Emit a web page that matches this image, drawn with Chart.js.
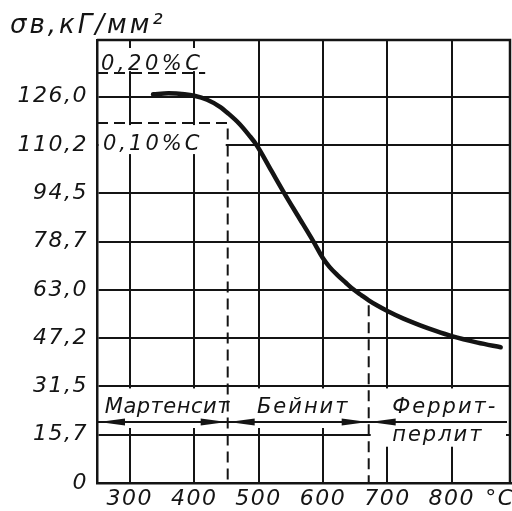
<!DOCTYPE html>
<html>
<head>
<meta charset="utf-8">
<script src="https://cdn.jsdelivr.net/npm/chart.js@4.4.1/dist/chart.umd.min.js"></script>
<style>
  html, body { margin: 0; padding: 0; background: #fff; }
  #wrap { width: 512px; height: 511px; }
</style>
</head>
<body>
<div id="wrap"><canvas id="strengthChart"></canvas></div>
<script>
// tempering temperature, °C
const temperature = [336, 360, 385, 400, 420, 440, 453, 470, 485, 497, 520, 540, 560, 585, 600, 610, 622, 635, 648, 660, 671, 685, 700, 725, 750, 775, 800, 840, 876];
// tensile strength, kgf/mm2
const strength = [126.8, 127.1, 126.8, 126.3, 125.0, 122.7, 120.5, 117.2, 113.5, 110.2, 101.8, 94.5, 87.5, 78.8, 73.3, 70.5, 67.9, 65.4, 63.0, 61.2, 59.6, 57.8, 56.1, 53.6, 51.5, 49.6, 47.9, 45.8, 44.3];

const xTicks = [300, 400, 500, 600, 700, 800, 875];
const xLabels = ['300', '400', '500', '600', '700', '800', '°C'];
const yTicks = [0, 15.75, 31.5, 47.25, 63, 78.75, 94.5, 110.25, 126];
const yLabels = ['0', '15,7', '31,5', '47,2', '63,0', '78,7', '94,5', '110,2', '126,0'];

// carbon levels (dashed lines)
const carbonLabels = ['0,20%C', '0,10%C'];
const carbonStrength = [133.7, 117.4];
const carbonEndTemp = [417, 452];

// structure zones along the bottom strip
const phaseNames = [['Мартенсит'], ['Бейнит'], ['Феррит-', 'перлит']];
const phaseBounds = [249, 452, 671, 892];
const boundaryTop = [117.4, 59.6];
const arrowLevel = 19.9;

const FAMILY = '"DejaVu Sans", sans-serif';
const INK = '#141414';

function arrowHead(ctx, tipX, yy, dir) {
  // dir = 1 points left, dir = -1 points right
  ctx.beginPath();
  ctx.moveTo(tipX, yy);
  ctx.lineTo(tipX + dir * 26, yy - 3.5);
  ctx.lineTo(tipX + dir * 26, yy + 3.5);
  ctx.closePath();
  ctx.fill();
}

const sketchPlugin = {
  id: 'sketch',
  beforeLayout(chart) {
    chart.ctx.letterSpacing = '1.5px';
  },
  beforeDraw(chart) {
    chart.ctx.letterSpacing = '1.5px';
  },
  beforeDatasetsDraw(chart) {
    const { ctx, chartArea: a, scales: { x, y } } = chart;
    const y20 = y.getPixelForValue(carbonStrength[0]);
    const y10 = y.getPixelForValue(carbonStrength[1]);
    const xEnd20 = x.getPixelForValue(carbonEndTemp[0]);
    const xB1 = x.getPixelForValue(phaseBounds[1]);
    const xB2 = x.getPixelForValue(phaseBounds[2]);
    const yArrow = y.getPixelForValue(arrowLevel);
    const y31 = y.getPixelForValue(yTicks[2]);
    const y15 = y.getPixelForValue(yTicks[1]);

    ctx.save();
    // blank out grid behind the lettering
    ctx.fillStyle = '#fff';
    ctx.fillRect(a.left + 2, a.top + 8, xEnd20 + 4 - a.left - 2, y20 - 2 - (a.top + 8));
    ctx.fillRect(a.left + 2, y10 + 2, xB1 - 2 - a.left - 2, 29);
    ctx.fillRect(a.left + 2, y31 + 2, a.right - a.left - 4, yArrow + 6 - y31 - 2);
    ctx.fillRect(xB2 + 2, yArrow + 1, a.right - 5 - xB2 - 2, y15 + 12 - yArrow - 1);

    // frame top and right
    ctx.strokeStyle = INK;
    ctx.lineWidth = 2.5;
    ctx.beginPath();
    ctx.moveTo(a.left, a.top);
    ctx.lineTo(a.right - 1, a.top);
    ctx.lineTo(a.right - 1, a.bottom);
    ctx.stroke();

    // dashed carbon / zone lines
    ctx.lineWidth = 2;
    ctx.setLineDash([11, 6]);
    ctx.beginPath();
    ctx.moveTo(a.left, y20);
    ctx.lineTo(xEnd20, y20);
    ctx.moveTo(a.left, y10);
    ctx.lineTo(xB1, y10);
    ctx.lineTo(xB1, a.bottom);
    ctx.moveTo(xB2, y.getPixelForValue(boundaryTop[1]) + 5);
    ctx.lineTo(xB2, a.bottom);
    ctx.stroke();
    ctx.setLineDash([]);

    // dimension line with arrows
    ctx.beginPath();
    ctx.moveTo(a.left, yArrow);
    ctx.lineTo(a.right - 4, yArrow);
    ctx.stroke();
    ctx.fillStyle = INK;
    arrowHead(ctx, a.left + 2, yArrow, 1);
    arrowHead(ctx, xB1 - 1, yArrow, -1);
    arrowHead(ctx, xB1 + 1, yArrow, 1);
    arrowHead(ctx, xB2 - 1, yArrow, -1);
    arrowHead(ctx, xB2 + 1, yArrow, 1);

    // lettering
    ctx.font = 'italic 21px ' + FAMILY;
    ctx.textBaseline = 'alphabetic';
    ctx.textAlign = 'left';
    ctx.letterSpacing = '3.5px';
    ctx.fillText(carbonLabels[0], a.left + 4, y20 - 3);
    ctx.letterSpacing = '3px';
    ctx.fillText(carbonLabels[1], a.left + 6, y10 + 27);

    ctx.textAlign = 'center';
    phaseNames.forEach((lines, i) => {
      const cx = x.getPixelForValue((phaseBounds[i] + phaseBounds[i + 1]) / 2);
      ctx.letterSpacing = i === 0 ? '0.5px' : '2px';
      ctx.fillText(lines[0], cx + 5, yArrow - 9);
      if (lines[1]) ctx.fillText(lines[1], cx - 2, yArrow + 19);
    });
    ctx.restore();
  },
  afterDraw(chart) {
    const { ctx } = chart;
    ctx.save();
    ctx.font = 'italic 26px ' + FAMILY;
    ctx.letterSpacing = '3px';
    ctx.fillStyle = INK;
    ctx.textAlign = 'left';
    ctx.textBaseline = 'alphabetic';
    ctx.fillText('σв,кГ/мм²', 10, 33);
    ctx.restore();
  }
};

const tickFont = { family: FAMILY, size: 22, style: 'italic' };

new Chart(document.getElementById('strengthChart'), {
  type: 'line',
  data: {
    datasets: [{
      data: temperature.map((t, i) => ({ x: t, y: strength[i] })),
      borderColor: INK,
      borderWidth: 4.5,
      borderCapStyle: 'round',
      pointRadius: 0,
      cubicInterpolationMode: 'monotone',
      fill: false
    }]
  },
  options: {
    responsive: true,
    maintainAspectRatio: false,
    animation: false,
    layout: { padding: { top: 40, right: 1, left: 0, bottom: 0 } },
    plugins: { legend: { display: false }, tooltip: { enabled: false } },
    scales: {
      x: {
        type: 'linear',
        min: phaseBounds[0],
        max: phaseBounds[3],
        afterBuildTicks: s => { s.ticks = xTicks.map(v => ({ value: v })); },
        afterFit: s => { s.height = 28; s.paddingLeft = 0; s.paddingRight = 0; },
        ticks: {
          callback: (v, i) => xLabels[i],
          font: tickFont, color: INK, padding: 3,
          maxRotation: 0, autoSkip: false
        },
        grid: {
          color: c => (c.tick && c.tick.value > 800) ? 'rgba(0,0,0,0)' : INK,
          lineWidth: 2, drawTicks: false
        },
        border: { color: INK, width: 2.5 }
      },
      y: {
        min: 0,
        max: 144.5,
        afterBuildTicks: s => { s.ticks = yTicks.map(v => ({ value: v })); },
        afterFit: s => { s.width = 97; },
        ticks: {
          callback: (v, i) => yLabels[i],
          font: tickFont, color: INK, padding: 9
        },
        grid: { color: INK, lineWidth: 2, drawTicks: false },
        border: { color: INK, width: 2.5 }
      }
    }
  },
  plugins: [sketchPlugin]
});
</script>
</body>
</html>
